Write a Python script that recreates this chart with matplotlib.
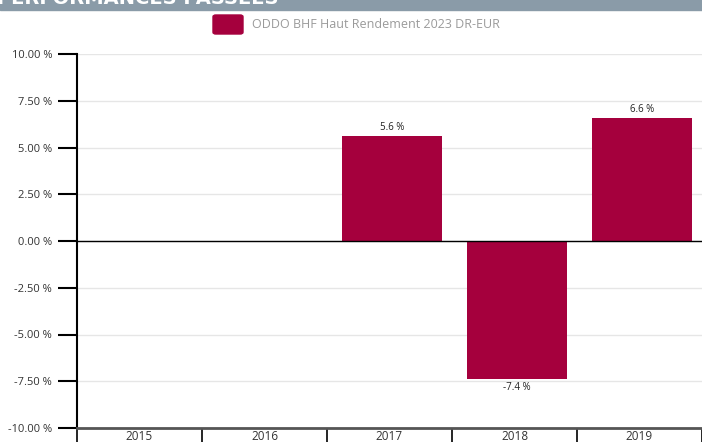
import matplotlib
matplotlib.use("Agg")
import matplotlib.pyplot as plt
from matplotlib.patches import FancyBboxPatch, Rectangle
import numpy as np

years = ["2015", "2016", "2017", "2018", "2019"]
values = [np.nan, np.nan, 5.6, -7.4, 6.6]
value_labels = ["", "", "5.6 %", "-7.4 %", "6.6 %"]
yticks = [10.0, 7.5, 5.0, 2.5, 0.0, -2.5, -5.0, -7.5, -10.0]
series_name = "ODDO BHF Haut Rendement 2023 DR-EUR"
title = "PERFORMANCES PASSÉES"

bar_color = "#A5003D"
W, H = 702, 442
fig = plt.figure(figsize=(W / 100, H / 100), dpi=100)
plt.rcParams['font.family'] = ['Open Sans', 'DejaVu Sans']

# banner
fig.patches.append(Rectangle((0, 1 - 10 / H), 1, 10 / H, transform=fig.transFigure,
                             color="#8A9BA8", zorder=0))
fig.text(-3 / W, 1 - 4 / H, title, color="white", fontsize=14, fontweight="bold",
         va="baseline", ha="left", family="DejaVu Sans")

# legend
fig.patches.append(FancyBboxPatch((213 / W, 1 - 34 / H), 30 / W, 19 / H,
                                  boxstyle="round,pad=0,rounding_size=0.004",
                                  transform=fig.transFigure, color=bar_color))
fig.text(252 / W, 1 - 25 / H, series_name, color="#9A9A9A", fontsize=9,
         va="center", ha="left")

ax = fig.add_axes([77 / W, 1 - 428 / H, 625 / W, 374 / H])
x = np.arange(len(years))
ax.bar(x + 0.02, values, width=0.8, color=bar_color, zorder=3)
for xi, v, lab in zip(x, values, value_labels):
    if np.isnan(v):
        continue
    if v >= 0:
        ax.text(xi + 0.02, v + 0.15, lab, ha="center", va="bottom", fontsize=7, color="#222")
    else:
        ax.text(xi + 0.02, v - 0.12, lab, ha="center", va="top", fontsize=7, color="#222")

ax.set_xlim(-0.5, len(years) - 0.5)
ax.set_ylim(-10, 10)
ax.set_yticks(yticks)
ax.set_yticklabels([f"{t:.2f} %" for t in yticks], fontsize=8, color="#333")
ax.tick_params(axis="y", length=14, width=1.5, color="black", pad=4)
ax.grid(axis="y", color="#E6E6E6", linewidth=1, zorder=0)
ax.axhline(0, color="black", linewidth=1, zorder=4)

ax.set_xticks(x)
ax.set_xticklabels(years, fontsize=8.5, color="#333")
ax.tick_params(axis="x", which="major", length=0, pad=1.5)
ax.set_xticks(np.arange(-0.5, len(years) + 0.5, 1), minor=True)
ax.tick_params(axis="x", which="minor", length=14, width=1.2, color="black")

for s in ["top", "right"]:
    ax.spines[s].set_visible(False)
ax.spines["left"].set_color("black")
ax.spines["left"].set_linewidth(1.5)
ax.spines["bottom"].set_color("#555555")
ax.spines["bottom"].set_linewidth(2)

fig.savefig("out.png", dpi=100)
